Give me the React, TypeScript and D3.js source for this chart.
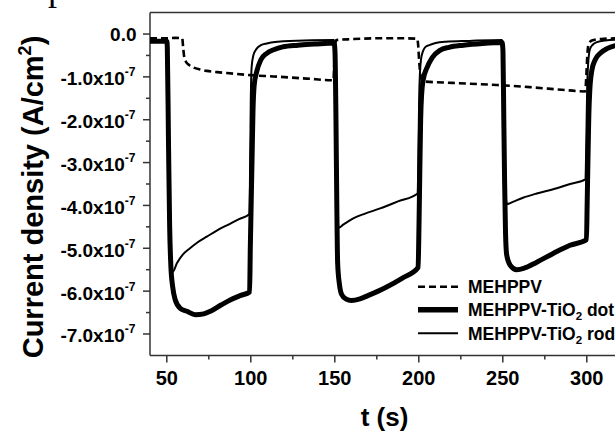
import React from "react";
import * as d3 from "d3";

// time axis (s) and current density axis (units of 1e-7 A/cm^2)
const tDomain: [number, number] = [40, 320];
const jDomain: [number, number] = [-7.5, 0.5];
const xMajorTicks = [50, 100, 150, 200, 250, 300];
const xMinorTicks = [75, 125, 175, 225, 275];
const yMajorTicks = [0, -1, -2, -3, -4, -5, -6, -7];
const yMinorTicks = [-0.5, -1.5, -2.5, -3.5, -4.5, -5.5, -6.5];
const yTickLabels = ["0.0", "-1.0", "-2.0", "-3.0", "-4.0", "-5.0", "-6.0", "-7.0"];

// MEHPPV (dashed)
const mehppv: [number, number][] = [
  [40, -0.1], [50, -0.1], [55, -0.09], [59.2, -0.1], [59.7, -0.3], [60.3, -0.52],
  [61.3, -0.64], [63.5, -0.73], [65.8, -0.78], [70, -0.83], [73.8, -0.86], [80, -0.89],
  [85.7, -0.91], [100, -0.96], [113.4, -0.99], [133.3, -1.04], [149.2, -1.08],
  [149.7, -0.7], [150.2, -0.22], [151, -0.14], [160, -0.12], [175, -0.1], [190, -0.1],
  [199, -0.11], [199.6, -0.25], [200.2, -0.62], [201, -0.95], [202, -1.08], [204, -1.11],
  [220, -1.14], [246.4, -1.19], [266, -1.24], [285, -1.3], [299, -1.34],
  [299.7, -1.0], [300.3, -0.5], [301, -0.25], [303, -0.15], [310, -0.11], [320, -0.1],
];

// MEHPPV-TiO2 dot (thick)
const tio2Dot: [number, number][] = [
  [40, -0.17], [50, -0.17], [50.3, -0.3], [51.0, -2.5], [51.7, -4.5], [52.4, -5.4],
  [53.5, -5.9], [55, -6.2], [58, -6.4], [62, -6.47], [67, -6.55], [72, -6.53],
  [76, -6.47], [82, -6.33], [88, -6.2], [94, -6.1], [99.3, -6.02],
  [99.7, -5.0], [100.2, -4.0], [100.8, -2.8], [101.3, -1.8], [102, -1.2], [103.5, -0.88],
  [106, -0.6], [109.5, -0.45], [114, -0.36], [119, -0.3], [128, -0.26], [138, -0.235], [149.6, -0.21],
  [150.1, -0.4], [150.7, -2.0], [151.2, -4.0], [151.7, -5.35], [152.8, -5.85], [154.1, -6.08],
  [156.5, -6.18], [160, -6.22], [165, -6.18], [170, -6.1], [180, -5.92], [190, -5.7], [199.6, -5.45],
  [200.1, -4.5], [200.6, -3.2], [201.1, -2.0], [201.7, -1.4], [202.7, -1.05], [204.6, -0.81],
  [208, -0.55], [212.6, -0.38], [218, -0.31], [226.5, -0.26], [238, -0.22], [249.6, -0.2],
  [250.1, -0.4], [250.6, -2.0], [251.1, -3.5], [251.6, -4.6], [252.3, -5.15], [254.5, -5.4],
  [258.3, -5.5], [263, -5.46], [270, -5.33], [280, -5.12], [290, -4.93], [299.8, -4.8],
  [300.2, -4.0], [300.7, -2.9], [301.2, -1.9], [301.8, -1.3], [303, -0.85], [305, -0.6],
  [308, -0.45], [312, -0.34], [317, -0.27], [320, -0.25],
];

// MEHPPV-TiO2 rod (thin)
const tio2Rod: [number, number][] = [
  [40, -0.15], [50, -0.15], [50.3, -0.3], [51.0, -2.5], [52.2, -4.9], [53.6, -5.55],
  [56, -5.35], [59.5, -5.15], [63.8, -5.0], [68, -4.87], [73.8, -4.73], [80, -4.58],
  [87.6, -4.43], [93, -4.32], [99.2, -4.2],
  [99.6, -3.0], [100, -1.5], [100.5, -0.77], [101.5, -0.5], [103.5, -0.34], [106, -0.26],
  [109.5, -0.22], [116, -0.18], [123, -0.16], [149.6, -0.14],
  [150.1, -0.5], [150.7, -2.5], [151.4, -4.0], [152.3, -4.52], [155, -4.45], [161, -4.3],
  [168, -4.19], [177, -4.07], [188, -3.9], [199.3, -3.72],
  [199.7, -3.0], [200.2, -1.5], [200.7, -0.9], [201.3, -0.6], [202.5, -0.4], [204, -0.3],
  [206.2, -0.26], [210, -0.21], [216, -0.18], [230, -0.16], [249.6, -0.14],
  [250.1, -0.5], [250.7, -2.0], [251.3, -3.3], [252.4, -3.97], [256.3, -3.91], [262, -3.82],
  [270.2, -3.72], [282.1, -3.6], [290, -3.5], [299.2, -3.39],
  [299.7, -2.5], [300.2, -1.3], [300.8, -0.7], [301.9, -0.35], [303.5, -0.25], [306, -0.19],
  [311, -0.15], [320, -0.13],
];

const legendNames = ["MEHPPV", "MEHPPV-TiO", "MEHPPV-TiO"];
const legendSuffix = ["", " dot", " rod"];

const FONT = "'Liberation Sans', Arial, sans-serif";

export default function App() {
  const W = 615;
  const H = 433;
  const left = 150;
  const top = 12.6;
  const bottom = 355.4;
  const x = d3.scaleLinear().domain(tDomain).range([left, left + 280 * 1.68]);
  const y = d3.scaleLinear().domain(jDomain).range([bottom, top]);

  const line = d3
    .line<[number, number]>()
    .x((d) => x(d[0]))
    .y((d) => y(d[1]))
    .curve(d3.curveMonotoneX);

  const series = [
    { data: mehppv, width: 2.6, dash: "7,4" },
    { data: tio2Rod, width: 2, dash: "" },
    { data: tio2Dot, width: 5, dash: "" },
  ];

  const legendY = [286.7, 309.8, 333.3];
  const legendStyles = [
    { width: 2.6, dash: "7,4" },
    { width: 5.5, dash: "" },
    { width: 2, dash: "" },
  ];

  return (
    <svg
      width={W}
      height={H}
      style={{ position: "absolute", left: 0, top: 0, background: "#fff" }}
    >
      <rect x={0} y={0} width={W} height={H} fill="#fff" />
      <text x={48} y={0} fontFamily="'Liberation Serif', serif" fontSize={36} fill="#000">
        p
      </text>
      <defs>
        <clipPath id="plotClip">
          <rect x={left} y={top} width={W - left + 10} height={bottom - top} />
        </clipPath>
      </defs>

      {/* frame */}
      <line x1={left} x2={W + 5} y1={top} y2={top} stroke="#333" strokeWidth={1.5} />
      <line x1={left} x2={W + 5} y1={bottom} y2={bottom} stroke="#333" strokeWidth={1.5} />
      <line x1={left} x2={left} y1={top} y2={bottom} stroke="#333" strokeWidth={1.5} />

      {/* x ticks */}
      {xMajorTicks.map((t) => (
        <g key={"xt" + t}>
          <line x1={x(t)} x2={x(t)} y1={bottom} y2={bottom + 7} stroke="#333" strokeWidth={1.5} />
          <text
            x={x(t)}
            y={385}
            textAnchor="middle"
            fontFamily={FONT}
            fontWeight="bold"
            fontSize={20}
            fill="#000"
          >
            {t}
          </text>
        </g>
      ))}
      {xMinorTicks.map((t) => (
        <line key={"xm" + t} x1={x(t)} x2={x(t)} y1={bottom} y2={bottom + 4} stroke="#333" strokeWidth={1.5} />
      ))}

      {/* y ticks */}
      {yMajorTicks.map((v, i) => (
        <g key={"yt" + v}>
          <line x1={left - 7} x2={left} y1={y(v)} y2={y(v)} stroke="#333" strokeWidth={1.5} />
          {v === 0 ? (
            <text
              x={136.5}
              y={y(v) + 7}
              textAnchor="end"
              fontFamily={FONT}
              fontWeight="bold"
              fontSize={19}
              fill="#000"
            >
              {yTickLabels[i]}
            </text>
          ) : (
            <text
              x={135.5}
              y={y(v) + 8.5}
              textAnchor="end"
              fontFamily={FONT}
              fontWeight="bold"
              fontSize={19}
              fill="#000"
            >
              {yTickLabels[i] + "x10"}
              <tspan fontSize={12} dy={-9}>
                -7
              </tspan>
            </text>
          )}
        </g>
      ))}
      {yMinorTicks.map((v) => (
        <line key={"ym" + v} x1={left - 4} x2={left} y1={y(v)} y2={y(v)} stroke="#333" strokeWidth={1.5} />
      ))}

      {/* data */}
      <g clipPath="url(#plotClip)">
        {series.map((s, i) => (
          <path
            key={i}
            d={line(s.data) || ""}
            fill="none"
            stroke="#000"
            strokeWidth={s.width}
            strokeDasharray={s.dash || undefined}
            strokeLinejoin="round"
          />
        ))}
      </g>

      {/* legend */}
      {legendNames.map((name, i) => (
        <g key={"lg" + i}>
          <line
            x1={418}
            x2={458}
            y1={legendY[i]}
            y2={legendY[i]}
            stroke="#000"
            strokeWidth={legendStyles[i].width}
            strokeDasharray={legendStyles[i].dash || undefined}
          />
          <text
            x={468}
            y={legendY[i] + 6.5}
            fontFamily={FONT}
            fontWeight="bold"
            fontSize={17.5}
            fill="#000"
          >
            {name}
            {i > 0 ? (
              <>
                <tspan fontSize={11.5} dy={4}>
                  2
                </tspan>
                <tspan dy={-4}>{legendSuffix[i]}</tspan>
              </>
            ) : null}
          </text>
        </g>
      ))}

      {/* axis titles */}
      <text
        x={384.5}
        y={426}
        textAnchor="middle"
        fontFamily={FONT}
        fontWeight="bold"
        fontSize={26}
        fill="#000"
      >
        t (s)
      </text>
      <text
        transform="translate(43,197) rotate(-90)"
        textAnchor="middle"
        fontFamily={FONT}
        fontWeight="bold"
        fontSize={29}
        fill="#000"
      >
        Current density (A/cm
        <tspan fontSize={18} dy={-12}>
          2
        </tspan>
        <tspan dy={12}>)</tspan>
      </text>
    </svg>
  );
}
